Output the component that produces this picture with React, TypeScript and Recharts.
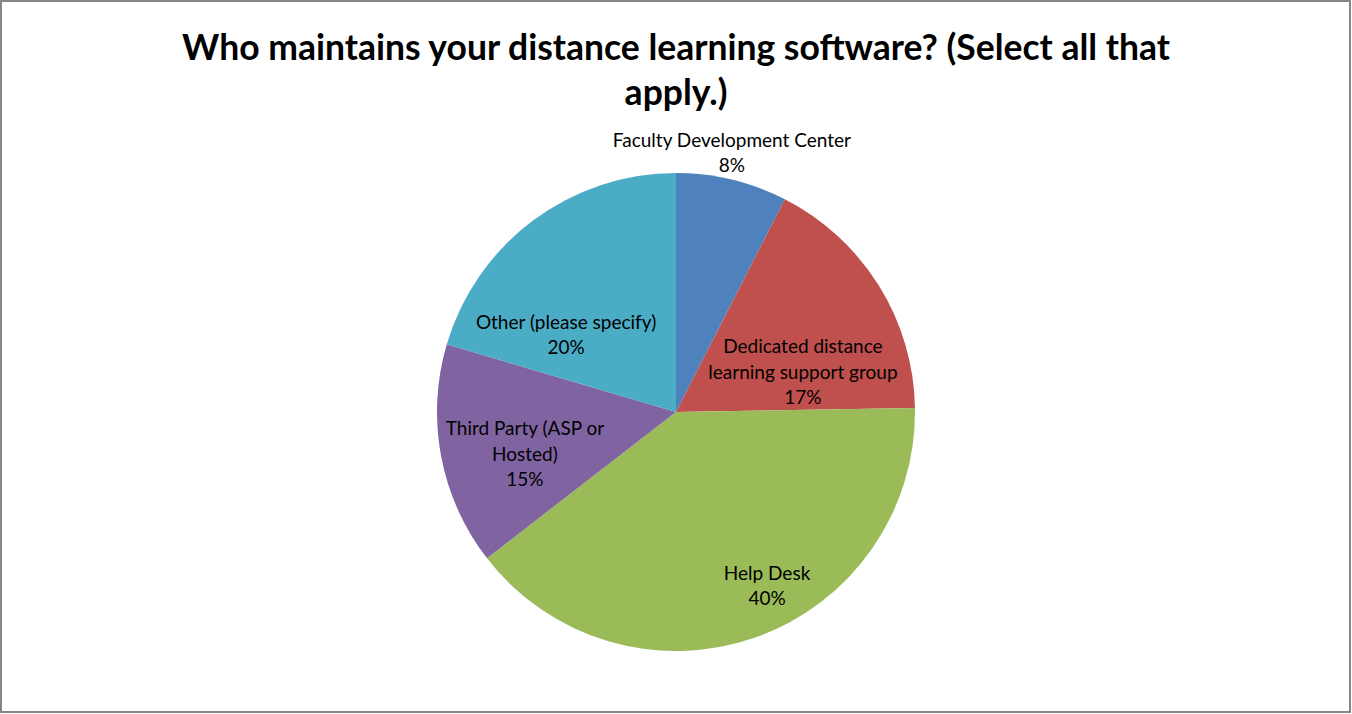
import React, { type ReactElement } from "react";
import { Cell, Pie, PieChart } from "recharts";

const categories = [
  "Faculty Development Center",
  "Dedicated distance learning support group",
  "Help Desk",
  "Third Party (ASP or Hosted)",
  "Other (please specify)",
];
const responses = [7, 16, 37, 14, 19];
const sliceColors = ["#4F81BD", "#C0504D", "#9BBB59", "#8064A2", "#4BACC6"];

const TITLE_LINES = [
  "Who maintains your distance learning software? (Select all that",
  "apply.)",
];

// label block centres as fractions of the pie radius (Excel "best fit")
const LABEL_SPOTS: Record<string, [number, number]> = {
  "Faculty Development Center": [0.234, -1.09],
  "Dedicated distance learning support group": [0.531, -0.172],
  "Help Desk": [0.381, 0.722],
  "Third Party (ASP or Hosted)": [-0.632, 0.17],
  "Other (please specify)": [-0.46, -0.328],
};

const FONT = "Lato, 'Open Sans', sans-serif";
const LINE_H = 25.5;

const wrap = (text: string, maxChars: number): string[] => {
  const lines: string[] = [];
  let cur = "";
  text.split(" ").forEach((w) => {
    const next = cur ? `${cur} ${w}` : w;
    if (next.length > maxChars && cur) {
      lines.push(cur);
      cur = w;
    } else {
      cur = next;
    }
  });
  if (cur) lines.push(cur);
  return lines;
};

const data = categories.map((name, i) => ({ name, value: responses[i] }));

const renderLabel = (props: any): ReactElement => {
  const { cx, cy, outerRadius, name, percent } = props;
  const spot = LABEL_SPOTS[name] ?? [0, 0];
  const x = cx + outerRadius * spot[0];
  const y = cy + outerRadius * spot[1];
  const lines = [...wrap(name, percent < 0.1 ? 40 : 22), `${Math.round(percent * 100)}%`];
  const startY = y - ((lines.length - 1) * LINE_H) / 2;
  return (
    <text
      x={x}
      y={startY}
      textAnchor="middle"
      dominantBaseline="central"
      style={{ fontFamily: FONT, fontSize: 19, fill: "#000000" }}
    >
      {lines.map((l, i) => (
        <tspan key={i} x={x} y={startY + i * LINE_H}>
          {l}
        </tspan>
      ))}
    </text>
  );
};

export default function App(): ReactElement {
  return (
    <div
      style={{
        position: "absolute",
        left: 0,
        top: 0,
        width: 1352,
        height: 714,
        background: "#ffffff",
      }}
    >
      <PieChart width={1352} height={714} margin={{ top: 0, right: 0, bottom: 0, left: 0 }}>
        <rect x={1} y={1} width={1349} height={711} fill="none" stroke="#868686" strokeWidth={2} />
        <text
          x={676}
          y={46}
          textAnchor="middle"
          dominantBaseline="central"
          style={{ fontFamily: FONT, fontSize: 35.5, fontWeight: 700, fill: "#000000" }}
        >
          {TITLE_LINES.map((l, i) => (
            <tspan key={i} x={676} y={46 + i * 45}>
              {l}
            </tspan>
          ))}
        </text>
        <Pie
          data={data}
          dataKey="value"
          nameKey="name"
          cx={676}
          cy={412}
          outerRadius={239}
          startAngle={90}
          endAngle={-270}
          stroke="none"
          labelLine={false}
          label={renderLabel}
          isAnimationActive={false}
        >
          {data.map((entry, index) => (
            <Cell key={`cell-${index}`} fill={sliceColors[index]} />
          ))}
        </Pie>
      </PieChart>
    </div>
  );
}
